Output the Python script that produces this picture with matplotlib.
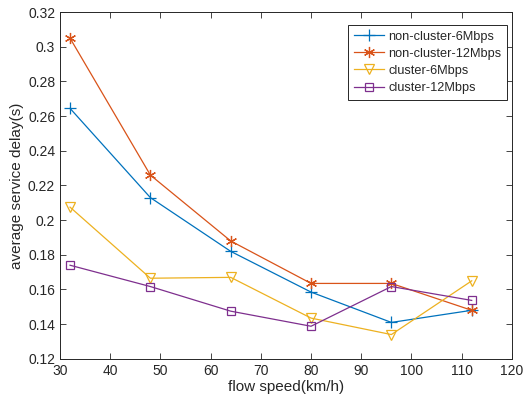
import numpy as np
import matplotlib.pyplot as plt

plt.rcParams['font.family'] = ['Liberation Sans', 'DejaVu Sans']

speed = [32, 48, 64, 80, 96, 112]
nc_6 = [0.2645, 0.213, 0.182, 0.1585, 0.141, 0.148]
nc_12 = [0.305, 0.226, 0.188, 0.1635, 0.1635, 0.148]
c_6 = [0.2075, 0.1665, 0.167, 0.1435, 0.134, 0.165]
c_12 = [0.174, 0.1617, 0.1475, 0.1388, 0.1617, 0.1537]

labels = ['non-cluster-6Mbps', 'non-cluster-12Mbps', 'cluster-6Mbps', 'cluster-12Mbps']
colors = ['#0072bd', '#d95319', '#edb120', '#7e2f8e']
# matlab-like markers: plus, asterisk, down triangle, square
markers = ['+', (6, 2, 0), 'v', 's']
sizes = [8, 8, 7, 5.5]
series = [nc_6, nc_12, c_6, c_12]

fig = plt.figure(figsize=(5.31, 4.05), dpi=100)
ax = fig.add_axes([0.113, 0.114, 0.851, 0.856])

for ys, lab, col, m, ms in zip(series, labels, colors, markers, sizes):
    ax.plot(speed, ys, color=col, marker=m, markersize=ms, linewidth=0.9,
            markerfacecolor='none', markeredgecolor=col, markeredgewidth=0.9, label=lab)

txt = '#262626'
ax.set_xlim(30, 120)
ax.set_ylim(0.12, 0.32)
ax.set_xticks(np.arange(30, 121, 10))
ax.set_yticks(np.arange(0.12, 0.321, 0.02))
ax.set_yticklabels(['0.12', '0.14', '0.16', '0.18', '0.2', '0.22', '0.24', '0.26', '0.28', '0.3', '0.32'])
ax.tick_params(direction='in', top=True, right=True, labelsize=10, colors=txt, length=4, width=0.6)
for s in ax.spines.values():
    s.set_color(txt)
    s.set_linewidth(0.7)
ax.set_xlabel('flow speed(km/h)', fontsize=11, color=txt, labelpad=2)
ax.set_ylabel('average service delay(s)', fontsize=11, color=txt, labelpad=3)

leg = ax.legend(loc='upper right', bbox_to_anchor=(0.989, 0.963), fontsize=9.2,
                fancybox=False, framealpha=1, edgecolor=txt, borderaxespad=0,
                handlelength=2.4, handletextpad=0.3, labelspacing=0.4, borderpad=0.45)
leg.get_frame().set_linewidth(0.7)
for t in leg.get_texts():
    t.set_color(txt)

fig.savefig('out.png', dpi=100)
